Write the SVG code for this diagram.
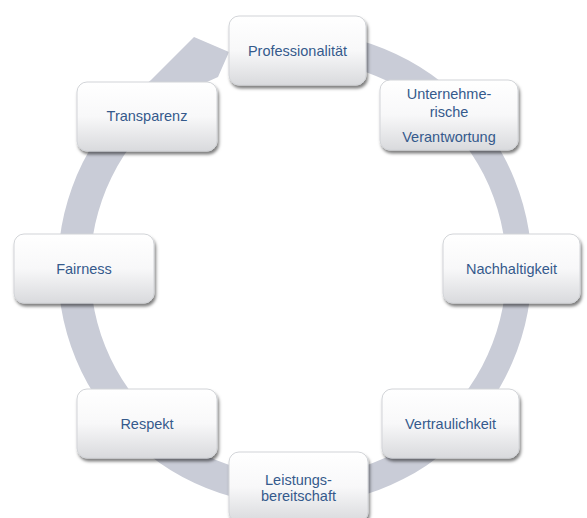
<svg xmlns="http://www.w3.org/2000/svg" width="587" height="518" viewBox="0 0 587 518">
  <defs>
    <linearGradient id="boxFill" x1="0" y1="0" x2="0" y2="1">
      <stop offset="0" stop-color="#ffffff"/>
      <stop offset="0.5" stop-color="#f8f8f9"/>
      <stop offset="1" stop-color="#d9dadd"/>
    </linearGradient>
    <filter id="shadow" x="-20%" y="-20%" width="140%" height="150%">
      <feDropShadow dx="1.5" dy="3" stdDeviation="1.8" flood-color="#000000" flood-opacity="0.5"/>
    </filter>
  </defs>
  <style>
    .box { fill: url(#boxFill); stroke: #d2d4d8; stroke-width: 1; filter: url(#shadow); }
    .lbl { font-family: "Liberation Sans", Arial, sans-serif; font-size: 14.5px; fill: #355a8c; text-anchor: middle; }
    .ring { fill: #c9ccd7; }
  </style>
  <rect width="587" height="518" fill="#ffffff"/>

  <g id="connectors">
    <path class="ring" d="M 332 34.3 A 237 237 0 1 1 151 80 L 194 37 L 229 52 L 218 77 A 208 208 0 1 0 328 63 Z"/>
  </g>

  <g id="node-professionalitaet">
    <rect class="box" x="229" y="16" width="137" height="69" rx="10"/>
    <text class="lbl" x="297.5" y="56">Professionalität</text>
  </g>
  <g id="node-unternehmerische-verantwortung">
    <rect class="box" x="380" y="80" width="138" height="70" rx="10"/>
    <text class="lbl" x="449" y="99">Unternehme-</text>
    <text class="lbl" x="449" y="117">rische</text>
    <text class="lbl" x="449" y="142">Verantwortung</text>
  </g>
  <g id="node-nachhaltigkeit">
    <rect class="box" x="443" y="234" width="137" height="69" rx="10"/>
    <text class="lbl" x="511.5" y="274">Nachhaltigkeit</text>
  </g>
  <g id="node-vertraulichkeit">
    <rect class="box" x="382" y="389" width="137" height="69" rx="10"/>
    <text class="lbl" x="450.5" y="429">Vertraulichkeit</text>
  </g>
  <g id="node-leistungsbereitschaft">
    <rect class="box" x="229" y="452" width="139" height="70" rx="10"/>
    <text class="lbl" x="298.5" y="485">Leistungs-</text>
    <text class="lbl" x="298.5" y="501">bereitschaft</text>
  </g>
  <g id="node-respekt">
    <rect class="box" x="77" y="389" width="140" height="69" rx="10"/>
    <text class="lbl" x="147" y="429">Respekt</text>
  </g>
  <g id="node-fairness">
    <rect class="box" x="14" y="234" width="140" height="69" rx="10"/>
    <text class="lbl" x="84" y="274">Fairness</text>
  </g>
  <g id="node-transparenz">
    <rect class="box" x="77" y="82" width="140" height="69" rx="10"/>
    <text class="lbl" x="147" y="121">Transparenz</text>
  </g>
</svg>
